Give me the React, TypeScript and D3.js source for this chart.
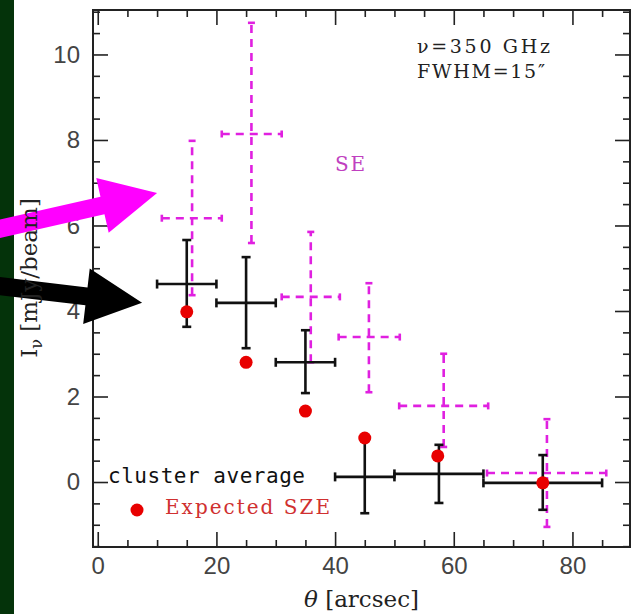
import React, { useEffect, useRef } from 'react';
import * as d3 from 'd3';

// cluster average (black, solid error bars)
const clusterTheta = [15, 25, 35, 45, 57.5, 75];
const clusterThetaLo = [10, 20, 30, 40, 50, 65];
const clusterThetaHi = [20, 30, 40, 50, 65, 85];
const clusterI = [4.63, 4.19, 2.8, 0.12, 0.19, -0.02];
const clusterILo = [3.63, 3.13, 2.08, -0.73, -0.49, -0.65];
const clusterIHi = [5.66, 5.26, 3.55, 0.97, 0.87, 0.63];

// SE sector (magenta, dashed error bars)
const seTheta = [15.9, 25.9, 35.9, 45.7, 58.3, 75.7];
const seThetaLo = [10.8, 20.9, 31, 40.6, 50.8, 65.6];
const seThetaHi = [20.9, 31, 40.8, 50.9, 65.8, 85.7];
const seI = [6.17, 8.14, 4.33, 3.39, 1.78, 0.21];
const seILo = [4.37, 5.59, 2.8, 2.1, 0.82, -1.05];
const seIHi = [7.98, 10.74, 5.85, 4.65, 3.0, 1.47];

// expected SZE (red dots)
const szeTheta = [15, 25, 35, 45, 57.3, 75];
const szeI = [3.98, 2.8, 1.66, 1.03, 0.61, -0.02];

const xMajor = [0, 20, 40, 60, 80];
const yMajor = [0, 2, 4, 6, 8, 10];

// annotation arrows, in data units: [tailX, tailY] -> [tipX, tipY]
const arrows = [
  { from: [-18.2, 5.87], to: [10.0, 6.76], color: '#ff00ff' },
  { from: [-18.2, 4.61], to: [7.47, 4.19], color: '#000000' },
];

const W = 632;
const H = 614;
const margin = { left: 93, right: 2, top: 10, bottom: 67 };

const App: React.FC = () => {
  const svgRef = useRef<SVGSVGElement>(null);

  useEffect(() => {
    if (!svgRef.current) return;
    const svg = d3.select(svgRef.current);
    svg.selectAll('*').remove();

    const x = d3.scaleLinear().domain([-0.8, 89.7]).range([margin.left, W - margin.right]);
    const y = d3.scaleLinear().domain([-1.52, 11.04]).range([H - margin.bottom, margin.top]);
    const x0 = margin.left, x1 = W - margin.right;
    const y0 = H - margin.bottom, y1 = margin.top;

    svg.append('rect').attr('width', W).attr('height', H).attr('fill', '#fff');
    svg.append('rect').attr('width', 14).attr('height', H).attr('fill', '#04330a');

    const xMinor = d3.range(0, 90, 5).filter(v => !xMajor.includes(v));
    const yMinor = d3.range(-1.5, 11.01, 0.5).filter(v => !yMajor.includes(v));

    const tickFont = (g: any) => g.selectAll('text')
      .attr('font-family', 'Liberation Sans, Arial, sans-serif')
      .attr('font-size', 24).attr('fill', '#444');
    const tickLines = (g: any) => {
      g.select('.domain').remove();
      g.selectAll('line').attr('stroke', '#222').attr('stroke-width', 1.6);
    };

    // bottom
    svg.append('g').attr('transform', `translate(0,${y0})`)
      .call(d3.axisBottom(x).tickValues(xMajor).tickSize(-15).tickPadding(10).tickFormat(d3.format('d')))
      .call(tickLines).call(tickFont);
    svg.append('g').attr('transform', `translate(0,${y0})`)
      .call(d3.axisBottom(x).tickValues(xMinor).tickSize(-7).tickFormat(() => ''))
      .call(tickLines);
    // top
    svg.append('g').attr('transform', `translate(0,${y1})`)
      .call(d3.axisTop(x).tickValues(xMajor).tickSize(-15).tickFormat(() => ''))
      .call(tickLines);
    svg.append('g').attr('transform', `translate(0,${y1})`)
      .call(d3.axisTop(x).tickValues(xMinor).tickSize(-7).tickFormat(() => ''))
      .call(tickLines);
    // left
    svg.append('g').attr('transform', `translate(${x0},0)`)
      .call(d3.axisLeft(y).tickValues(yMajor).tickSize(-15).tickPadding(13).tickFormat(d3.format('d')))
      .call(tickLines).call(tickFont);
    svg.append('g').attr('transform', `translate(${x0},0)`)
      .call(d3.axisLeft(y).tickValues(yMinor).tickSize(-7).tickFormat(() => ''))
      .call(tickLines);
    // right
    svg.append('g').attr('transform', `translate(${x1},0)`)
      .call(d3.axisRight(y).tickValues(yMajor).tickSize(-15).tickFormat(() => ''))
      .call(tickLines);
    svg.append('g').attr('transform', `translate(${x1},0)`)
      .call(d3.axisRight(y).tickValues(yMinor).tickSize(-7).tickFormat(() => ''))
      .call(tickLines);

    svg.append('rect')
      .attr('x', x0).attr('y', y1).attr('width', x1 - x0).attr('height', y0 - y1)
      .attr('fill', 'none').attr('stroke', '#222').attr('stroke-width', 2);

    // error bars helper
    const drawBars = (
      xs: number[], xlo: number[], xhi: number[],
      ys: number[], ylo: number[], yhi: number[],
      color: string, dash: string | null, cap: number
    ) => {
      const g = svg.append('g').attr('stroke', color).attr('stroke-width', 2.6).attr('fill', 'none');
      xs.forEach((xv, i) => {
        const segs: [number, number, number, number][] = [
          [x(xlo[i]), y(ys[i]), x(xhi[i]), y(ys[i])],
          [x(xv), y(ylo[i]), x(xv), y(yhi[i])],
        ];
        segs.forEach(s => {
          const l = g.append('line').attr('x1', s[0]).attr('y1', s[1]).attr('x2', s[2]).attr('y2', s[3]);
          if (dash) l.attr('stroke-dasharray', dash);
        });
        const caps: [number, number, number, number][] = [
          [x(xlo[i]), y(ys[i]) - cap, x(xlo[i]), y(ys[i]) + cap],
          [x(xhi[i]), y(ys[i]) - cap, x(xhi[i]), y(ys[i]) + cap],
          [x(xv) - cap, y(ylo[i]), x(xv) + cap, y(ylo[i])],
          [x(xv) - cap, y(yhi[i]), x(xv) + cap, y(yhi[i])],
        ];
        caps.forEach(c => g.append('line').attr('x1', c[0]).attr('y1', c[1]).attr('x2', c[2]).attr('y2', c[3]));
      });
    };

    drawBars(seTheta, seThetaLo, seThetaHi, seI, seILo, seIHi, '#e020e0', '8,6', 3.5);
    drawBars(clusterTheta, clusterThetaLo, clusterThetaHi, clusterI, clusterILo, clusterIHi, '#111', null, 4.5);

    svg.append('g').selectAll('circle').data(szeTheta).enter().append('circle')
      .attr('cx', (d) => x(d)).attr('cy', (_d, i) => y(szeI[i])).attr('r', 6.5)
      .attr('fill', '#e80000');

    // arrows
    arrows.forEach(a => {
      const tx = x(a.from[0]), ty = y(a.from[1]);
      const hx = x(a.to[0]), hy = y(a.to[1]);
      const ang = Math.atan2(hy - ty, hx - tx);
      const len = Math.hypot(hx - tx, hy - ty);
      const headLen = 56, headHalf = 28, shaftHalf = 9;
      const pts = [
        [0, -shaftHalf], [len - headLen, -shaftHalf], [len - headLen, -headHalf],
        [len, 0], [len - headLen, headHalf], [len - headLen, shaftHalf], [0, shaftHalf],
      ].map(([u, v]) => [tx + u * Math.cos(ang) - v * Math.sin(ang), ty + u * Math.sin(ang) + v * Math.cos(ang)]);
      svg.append('polygon').attr('points', pts.map(p => p.join(',')).join(' ')).attr('fill', a.color);
    });

    // annotations
    const serif = 'DejaVu Serif, Liberation Serif, serif';
    svg.append('text').attr('x', 417).attr('y', 53).attr('font-family', serif).attr('font-size', 19)
      .attr('fill', '#222').attr('textLength', 133).text('\u03bd=350  GHz');
    svg.append('text').attr('x', 417).attr('y', 78).attr('font-family', serif).attr('font-size', 19)
      .attr('fill', '#222').attr('textLength', 128).text('FWHM=15\u2033');
    svg.append('text').attr('x', 335).attr('y', 171).attr('font-family', serif).attr('font-size', 20)
      .attr('fill', '#c040c0').attr('textLength', 30).text('SE');

    // legend
    svg.append('text').attr('x', 108).attr('y', 483).attr('font-family', 'DejaVu Sans Mono, monospace')
      .attr('font-size', 21).attr('fill', '#111').attr('textLength', 197).text('cluster average');
    svg.append('circle').attr('cx', 137).attr('cy', 510).attr('r', 6.5).attr('fill', '#e80000');
    svg.append('text').attr('x', 165).attr('y', 514).attr('font-family', serif)
      .attr('font-size', 20).attr('fill', '#d03030').attr('textLength', 165).text('Expected SZE');

    // axis labels
    const xl = svg.append('text').attr('x', (x0 + x1) / 2).attr('y', 607).attr('text-anchor', 'middle')
      .attr('font-family', serif).attr('font-size', 23).attr('fill', '#222');
    xl.append('tspan').attr('font-style', 'italic').text('\u03b8');
    xl.append('tspan').text('  [arcsec]');

    const yl = svg.append('text').attr('transform', 'translate(37,278) rotate(-90)')
      .attr('text-anchor', 'middle').attr('font-family', serif).attr('font-size', 23).attr('fill', '#222');
    yl.append('tspan').text('I');
    yl.append('tspan').attr('font-size', 16).attr('dy', 5).text('\u03bd');
    yl.append('tspan').attr('dy', -5).text(' [mJy/beam]');
  }, []);

  return (
    <svg
      ref={svgRef}
      width={W}
      height={H}
      style={{ position: 'absolute', left: 0, top: 0, display: 'block' }}
    />
  );
};

export default App;
